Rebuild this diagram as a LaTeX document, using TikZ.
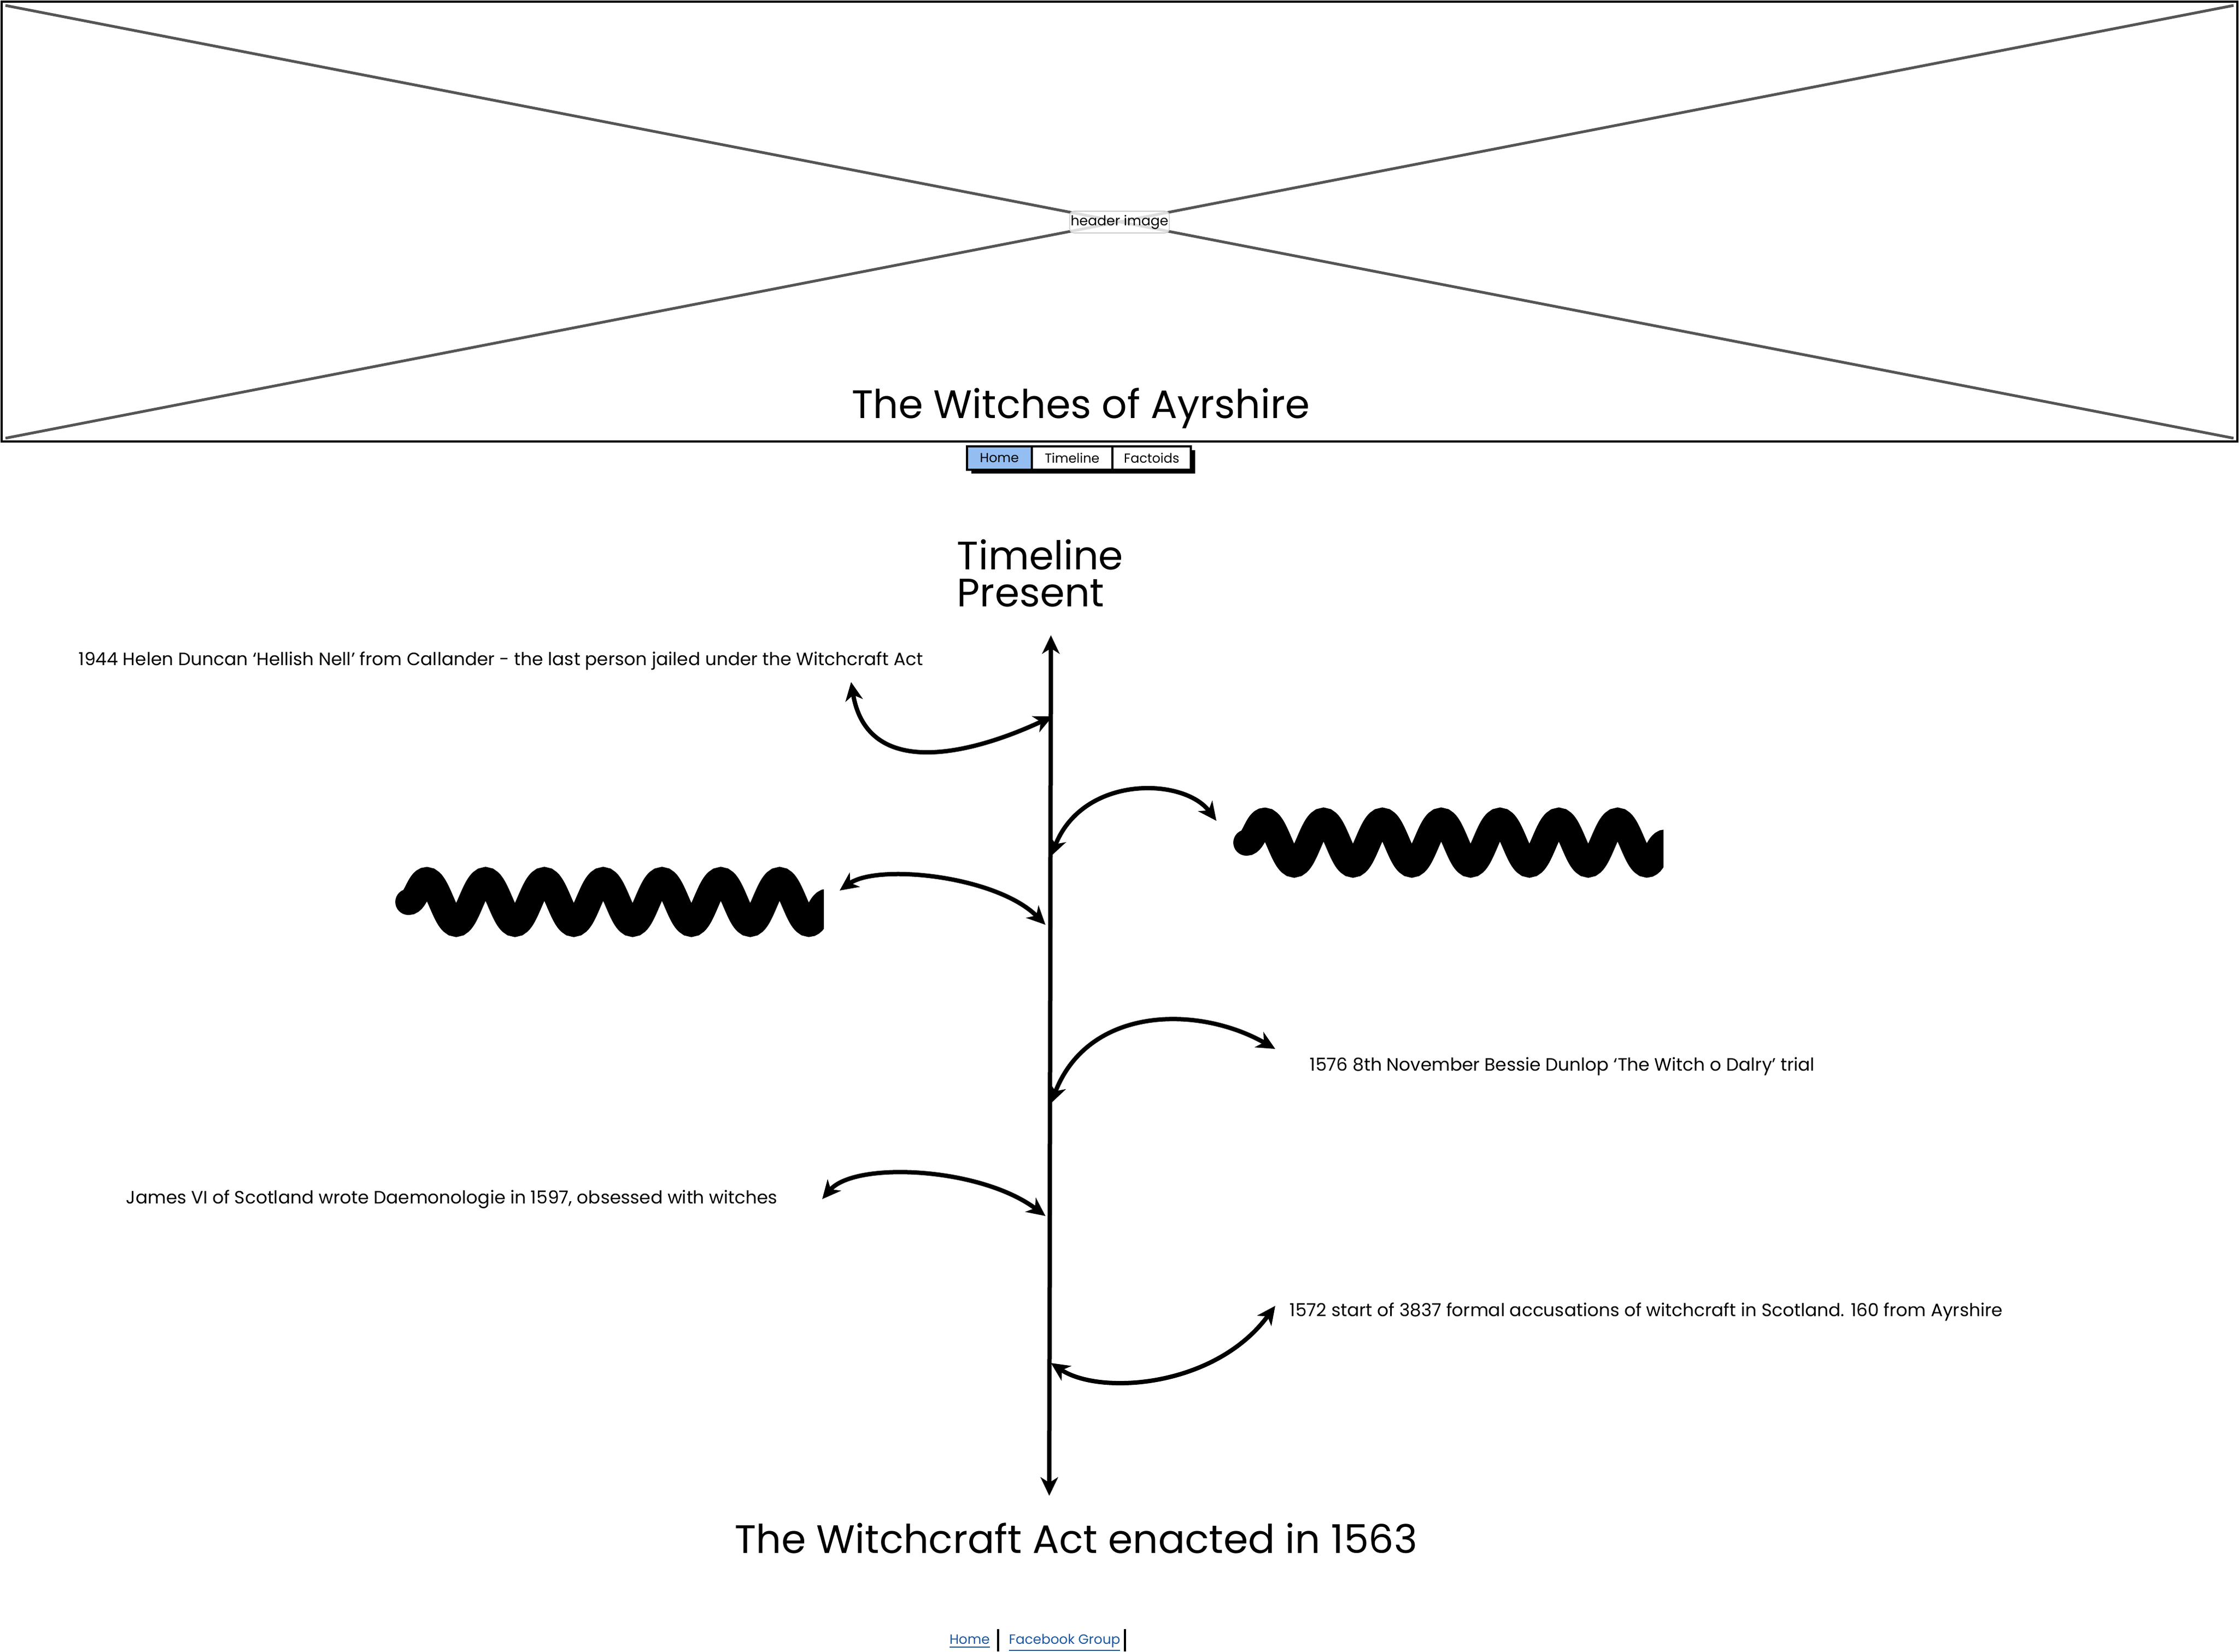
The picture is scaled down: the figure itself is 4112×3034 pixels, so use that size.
\documentclass[tikz,border=0pt]{standalone}
\usepackage{fontspec}
\setmainfont{Poppins}
\usetikzlibrary{arrows.meta,positioning,backgrounds,decorations.pathmorphing}
\definecolor{navblue}{RGB}{148,189,242}
\definecolor{linkblue}{RGB}{28,88,160}
\definecolor{crossgrey}{RGB}{85,85,85}
\definecolor{labelgrey}{RGB}{204,204,204}

\begin{document}
\begin{tikzpicture}[x=0.25pt,y=-0.25pt]
  \tikzset{
    event/.style={anchor=base west, inner sep=0pt, font=\fontsize{8.2}{9}\selectfont},
    heading/.style={anchor=base, inner sep=0pt, font=\fontsize{18.2}{20}\selectfont},
    navcell/.style={draw, line width=1pt, inner sep=0pt, outer sep=0pt, minimum height=10.75pt, fill=white, font=\fontsize{6}{7}\selectfont},
    link/.style={anchor=base west, inner sep=0pt, text=linkblue, font=\fontsize{6.2}{8}\selectfont},
    line/.style={draw, line width=2pt, {Stealth[length=8.5pt,width=8pt,inset=2.5pt]}-{Stealth[length=8.5pt,width=8pt,inset=2.5pt]}},
    scribble/.style={line width=12pt, line cap=round, decorate, decoration={snake, segment length=27pt, amplitude=10pt}}
  }
  \useasboundingbox (0,0) rectangle (4112,3034);

  % header image
  \coordinate (hnw) at (10,10);
  \coordinate (hne) at (4102,10);
  \coordinate (hsw) at (10,805);
  \coordinate (hse) at (4102,805);
  \draw [line width=0.9pt] (3,3) rectangle (4109,811);
  \draw [crossgrey, line width=1.25pt] (hnw)--(hse) (hne)--(hsw);
  \node [draw=labelgrey, rounded corners=2pt, fill=white, fill opacity=0.8, text opacity=1, minimum width=45.75pt, minimum height=10pt, inner sep=0pt, font=\fontsize{6.3}{7}\selectfont] (himg) at (2056,408) {header image};
  \node [heading] (title) at (1985,768) {The Witches of Ayrshire};

  % menu
  \node [navcell, fill=navblue, minimum width=29.75pt] (home) at (1835.5,841.5) {Home};
  \node [navcell, minimum width=37pt, right=0pt of home] (tline) {Timeline};
  \node [navcell, minimum width=36pt, right=0pt of tline] (facts) {Factoids};
  \begin{scope}[on background layer]
    \fill ([shift={(8,7)}]home.north west) rectangle ([shift={(8,7)}]facts.south east);
  \end{scope}

  % timeline
  \node [anchor=north west, inner sep=0pt, align=left, font=\fontsize{18.2}{17}\selectfont] (present) at (1757,990) {Timeline\\Present};
  \coordinate (top) at (1930,1167);
  \coordinate (bot) at (1927,2748);
  \path [line] (top)--(bot);
  \node [heading] (act) at (1976,2853) {The Witchcraft Act enacted in 1563};

  \node [event] (ev1944) at (144,1222) {1944 Helen Duncan ‘Hellish Nell’ from Callander - the last person jailed under the Witchcraft Act};
  \node [event] (ev1576) at (2405,1967) {1576 8th November Bessie Dunlop ‘The Witch o Dalry’ trial};
  \node [event] (evjames) at (231,2211) {James VI of Scotland wrote Daemonologie in 1597, obsessed with witches};
  \node [event] (ev1572) at (2368,2418) {1572 start of 3837 formal accusations of witchcraft in Scotland. 160 from Ayrshire};

  % scribbled entries
  \begin{scope}
    \clip (700,1560) rectangle (1513,1760);
    \draw [scribble] (750,1657)--(1560,1657);
  \end{scope}
  \begin{scope}
    \clip (2240,1450) rectangle (3055,1650);
    \draw [scribble] (2289,1548)--(3100,1548);
  \end{scope}

  % arrows to the line
  \coordinate (e1) at (1563,1253);  \coordinate (t1) at (1933,1316);
  \coordinate (e2) at (2234,1508);  \coordinate (t2) at (1930,1573);
  \coordinate (e3) at (1542,1636);  \coordinate (t3) at (1920,1699);
  \coordinate (e4) at (2342,1927);  \coordinate (t4) at (1930,2027);
  \coordinate (e5) at (1510,2203);  \coordinate (t5) at (1920,2234);
  \coordinate (e6) at (2342,2399);  \coordinate (t6) at (1930,2504);
  \path [line] (e1) .. controls +(30,180) and +(-150,70) .. (t1);
  \path [line] (t2) .. controls +(60,-150) and +(-60,-80) .. (e2);
  \path [line] (e3) .. controls +(70,-50) and +(-90,-90) .. (t3);
  \path [line] (t4) .. controls +(70,-180) and +(-140,-80) .. (e4);
  \path [line] (e5) .. controls +(60,-70) and +(-120,-90) .. (t5);
  \path [line] (t6) .. controls +(90,60) and +(-110,150) .. (e6);

  % footer
  \node [link] (fhome) at (1743,3020) {\underline{Home}};
  \node [link] (ffb) at (1852,3020) {\underline{Facebook Group}};
  \draw [line width=1pt] (1833,2993)--(1833,3034) (2066,2993)--(2066,3034);
\end{tikzpicture}
\end{document}
